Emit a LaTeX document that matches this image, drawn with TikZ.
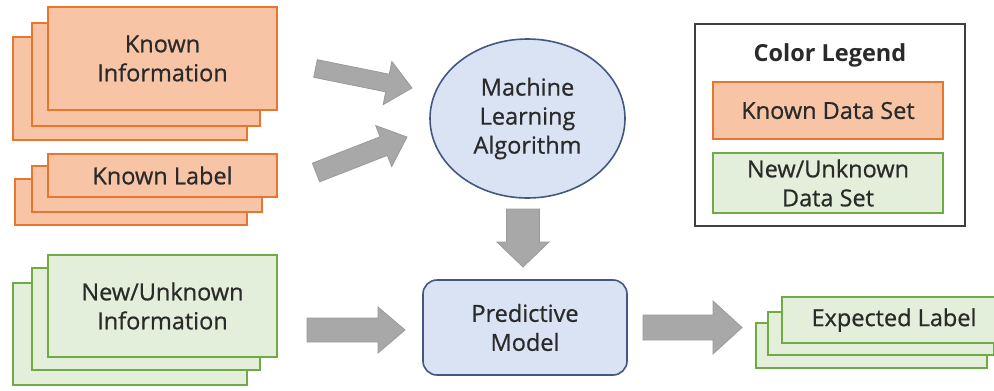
\documentclass[tikz,border=0pt]{standalone}
\usepackage{fontspec}
\setmainfont{Open Sans}
\newfontfamily\medfont{Open Sans}[FakeBold=0.7]
\usetikzlibrary{calc,shapes.geometric}
\definecolor{orfill}{HTML}{F7C4A5}
\definecolor{ordraw}{HTML}{E8762F}
\definecolor{grfill}{HTML}{E3EFDA}
\definecolor{grdraw}{HTML}{6EAB45}
\definecolor{blfill}{HTML}{DAE3F3}
\definecolor{bldraw}{HTML}{44587F}
\definecolor{arfill}{HTML}{A8A8A8}
\definecolor{ardraw}{HTML}{9A9A9A}
\definecolor{txt}{HTML}{2A2A2A}
\newcommand\blockarr[5]{%
  \coordinate (hb) at ($(#2)!#5!(#1)$);
  \filldraw[arrowst] ($(#1)!#3!90:(#2)$) -- ($(hb)!#3!-90:(#1)$) -- ($(hb)!#4!-90:(#1)$) -- (#2)
    -- ($(hb)!#4!90:(#1)$) -- ($(hb)!#3!90:(#1)$) -- ($(#1)!#3!-90:(#2)$) -- cycle;
}
\tikzset{
  every node/.style={font=\medfont\fontsize{23.5}{29}\selectfont, text=txt, inner sep=0pt, align=center},
  orbox/.style={draw=ordraw, fill=orfill, line width=2.6pt, rectangle},
  grbox/.style={draw=grdraw, fill=grfill, line width=2.6pt, rectangle},
  arrowst/.style={fill=arfill, draw=ardraw, line width=0.8pt, line join=miter},
  sz/.style 2 args={minimum width=#1, minimum height=#2},
}
\begin{document}
\begin{tikzpicture}[x=1pt,y=-1pt]
\useasboundingbox (0,0) rectangle (994,391);
% Known Information stack
\node[orbox, sz={234pt}{103pt}] (ki3) at (130,88.5) {};
\node[orbox, sz={228pt}{103pt}] (ki2) at (146,74.5) {};
\node[orbox, sz={229pt}{103pt}] (ki1) at (162.5,58.5) {Known\\Information};
% Known Label stack
\node[orbox, sz={232pt}{46pt}] (kl3) at (131,202) {};
\node[orbox, sz={230pt}{46pt}] (kl2) at (147,189) {};
\node[orbox, sz={229pt}{43pt}] (kl1) at (162.5,175.5) {Known Label};
% New/Unknown Information stack
\node[grbox, sz={234pt}{102pt}] (nu3) at (130,334) {};
\node[grbox, sz={228pt}{102pt}] (nu2) at (146,319) {};
\node[grbox, sz={229pt}{102pt}] (nu1) at (162.5,306) {New/Unknown\\Information};
% Expected Label stack
\node[grbox, sz={231pt}{45pt}] (el3) at (871.5,345.5) {};
\node[grbox, sz={226pt}{43pt}] (el2) at (881,333.5) {};
\node[grbox, sz={224pt}{46pt}] (el1) at (894,320) {Expected Label};
% Machine learning algorithm
\node[ellipse, draw=bldraw, fill=blfill, line width=1.6pt, sz={195pt}{159pt}] (mla) at (527.5,118.5) {Machine\\Learning\\Algorithm};
% Predictive model
\node[rectangle, rounded corners=14pt, draw=bldraw, fill=blfill, line width=1.6pt, sz={204pt}{95pt}] (pm) at (525,327.5) {Predictive\\Model};
% Legend
\node[draw=txt!90, line width=1.8pt, fill=white, sz={270pt}{202pt}] (leg) at (830,125) {};
\node[font=\fontsize{23.5}{29}\selectfont\bfseries] (legt) at (830,55) {Color Legend};
\node[orbox, line width=2.8pt, sz={230pt}{57pt}] (legk) at (828,110.5) {Known Data Set};
\node[grbox, line width=2.8pt, sz={230pt}{60pt}] (legn) at (828,183) {New/Unknown\\Data Set};
% block arrows
\coordinate (a1s) at (315.5,68.5); \coordinate (a1e) at (412,88);
\coordinate (a2s) at (316,172.5); \coordinate (a2e) at (407,137);
\coordinate (a3s) at (307,330); \coordinate (a3e) at (405,330);
\coordinate (a4s) at (523,209); \coordinate (a4e) at (523,267);
\coordinate (a5s) at (643,327.5); \coordinate (a5e) at (742,327.5);
\blockarr{a1s}{a1e}{9pt}{22pt}{25pt}
\blockarr{a2s}{a2e}{10pt}{22pt}{25pt}
\blockarr{a3s}{a3e}{12pt}{23pt}{27pt}
\blockarr{a4s}{a4e}{16.5pt}{26pt}{25pt}
\blockarr{a5s}{a5e}{12.5pt}{26.5pt}{29pt}
\end{tikzpicture}
\end{document}
